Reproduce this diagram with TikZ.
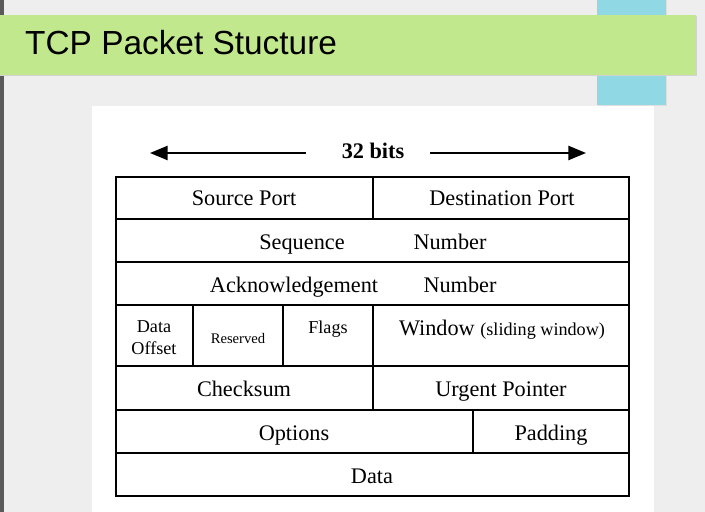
\documentclass[tikz,border=0pt]{standalone}
\usepackage{fontspec}
\setmainfont{Liberation Serif}
\newfontfamily\titlefont{Liberation Sans}
\usetikzlibrary{arrows.meta,positioning}
\definecolor{slidegray}{RGB}{238,238,238}
\definecolor{bargreen}{RGB}{194,232,142}
\definecolor{barblue}{RGB}{143,216,228}
\definecolor{edgegray}{RGB}{90,90,90}
\tikzset{
  cellbox/.style={draw=black, line width=2.4pt},
  celltext/.style={anchor=base, inner sep=0pt, font=\fontsize{19}{21}\selectfont},
  smalltext/.style={inner sep=0pt, align=center, font=\fontsize{15.5}{19}\selectfont},
  bitarrow/.style={line width=1.7pt, -{Triangle[length=15pt,width=12pt]}}
}

\begin{document}
\begin{tikzpicture}[x=0.03cm, y=-0.03cm]
  \useasboundingbox (0,0) rectangle (705,512);
  \fill[slidegray] (0,0) rectangle (705,512);            % slide background
  \fill[edgegray] (0,0) rectangle (4,512);               % dark strip at the left edge
  \fill[gray!25] (598,0) rectangle (667,106);            % shadow of blue strip
  \fill[barblue] (597,0) rectangle (666,105);            % blue strip
  \fill[gray!35] (0,16) rectangle (697,76);              % shadow of title bar
  \fill[bargreen] (0,15) rectangle (696,75);             % title bar
  \node[anchor=base west, inner sep=0pt, font=\titlefont\fontsize{28.5}{30}\selectfont] (title) at (25,55) {TCP Packet Stucture};
  \fill[white] (92,106) rectangle (654,512);             % white panel

  \node[celltext, font=\bfseries\fontsize{19}{21}\selectfont] (bits) at (373,159) {32 bits};  % width label
  \coordinate (leftend) at (150,153);
  \coordinate (rightend) at (586,153);
  \draw[bitarrow] ([xshift=-1.08cm, yshift=0.18cm]bits.base west) -- (leftend);   % arrow to the left
  \draw[bitarrow] ([xshift=0.78cm, yshift=0.18cm]bits.base east) -- (rightend);   % arrow to the right

  \draw[cellbox] (116,177) rectangle (373,219);          % source port
  \draw[cellbox] (373,177) rectangle (629,219);          % destination port
  \draw[cellbox] (116,219) rectangle (629,262);          % sequence number
  \draw[cellbox] (116,262) rectangle (629,305);          % acknowledgement number
  \draw[cellbox] (116,305) rectangle (193,366);          % data offset
  \draw[cellbox] (193,305) rectangle (283,366);          % reserved
  \draw[cellbox] (283,305) rectangle (373,366);          % flags
  \draw[cellbox] (373,305) rectangle (629,366);          % window
  \draw[cellbox] (116,366) rectangle (373,410);          % checksum
  \draw[cellbox] (373,366) rectangle (629,410);          % urgent pointer
  \draw[cellbox] (116,410) rectangle (473,453);          % options
  \draw[cellbox] (473,410) rectangle (629,453);          % padding
  \draw[cellbox] (116,453) rectangle (629,496);          % data

  \node[celltext] (srcport) at (244,206) {Source Port};
  \node[celltext] (dstport) at (502,206) {Destination Port};
  \node[celltext] (seq) at (302,249) {Sequence};
  \node[celltext] (seqnum) at (450,249) {Number};
  \node[celltext] (ack) at (294,292) {Acknowledgement};
  \node[celltext] (acknum) at (460,292) {Number};
  \node[smalltext] (offset) at (154,338) {Data\\Offset};
  \node[celltext, font=\fontsize{12.5}{14}\selectfont] (reserved) at (238,343) {Reserved};
  \node[celltext, font=\fontsize{15.5}{17}\selectfont] (flags) at (328,333) {Flags};
  \node[celltext] (window) at (502,335) {Window {\fontsize{15.5}{17}\selectfont(sliding window)}};
  \node[celltext] (checksum) at (244,396) {Checksum};
  \node[celltext] (urgent) at (501,396) {Urgent Pointer};
  \node[celltext] (options) at (294,440) {Options};
  \node[celltext] (padding) at (551,440) {Padding};
  \node[celltext] (data) at (372,483) {Data};
\end{tikzpicture}
\end{document}
